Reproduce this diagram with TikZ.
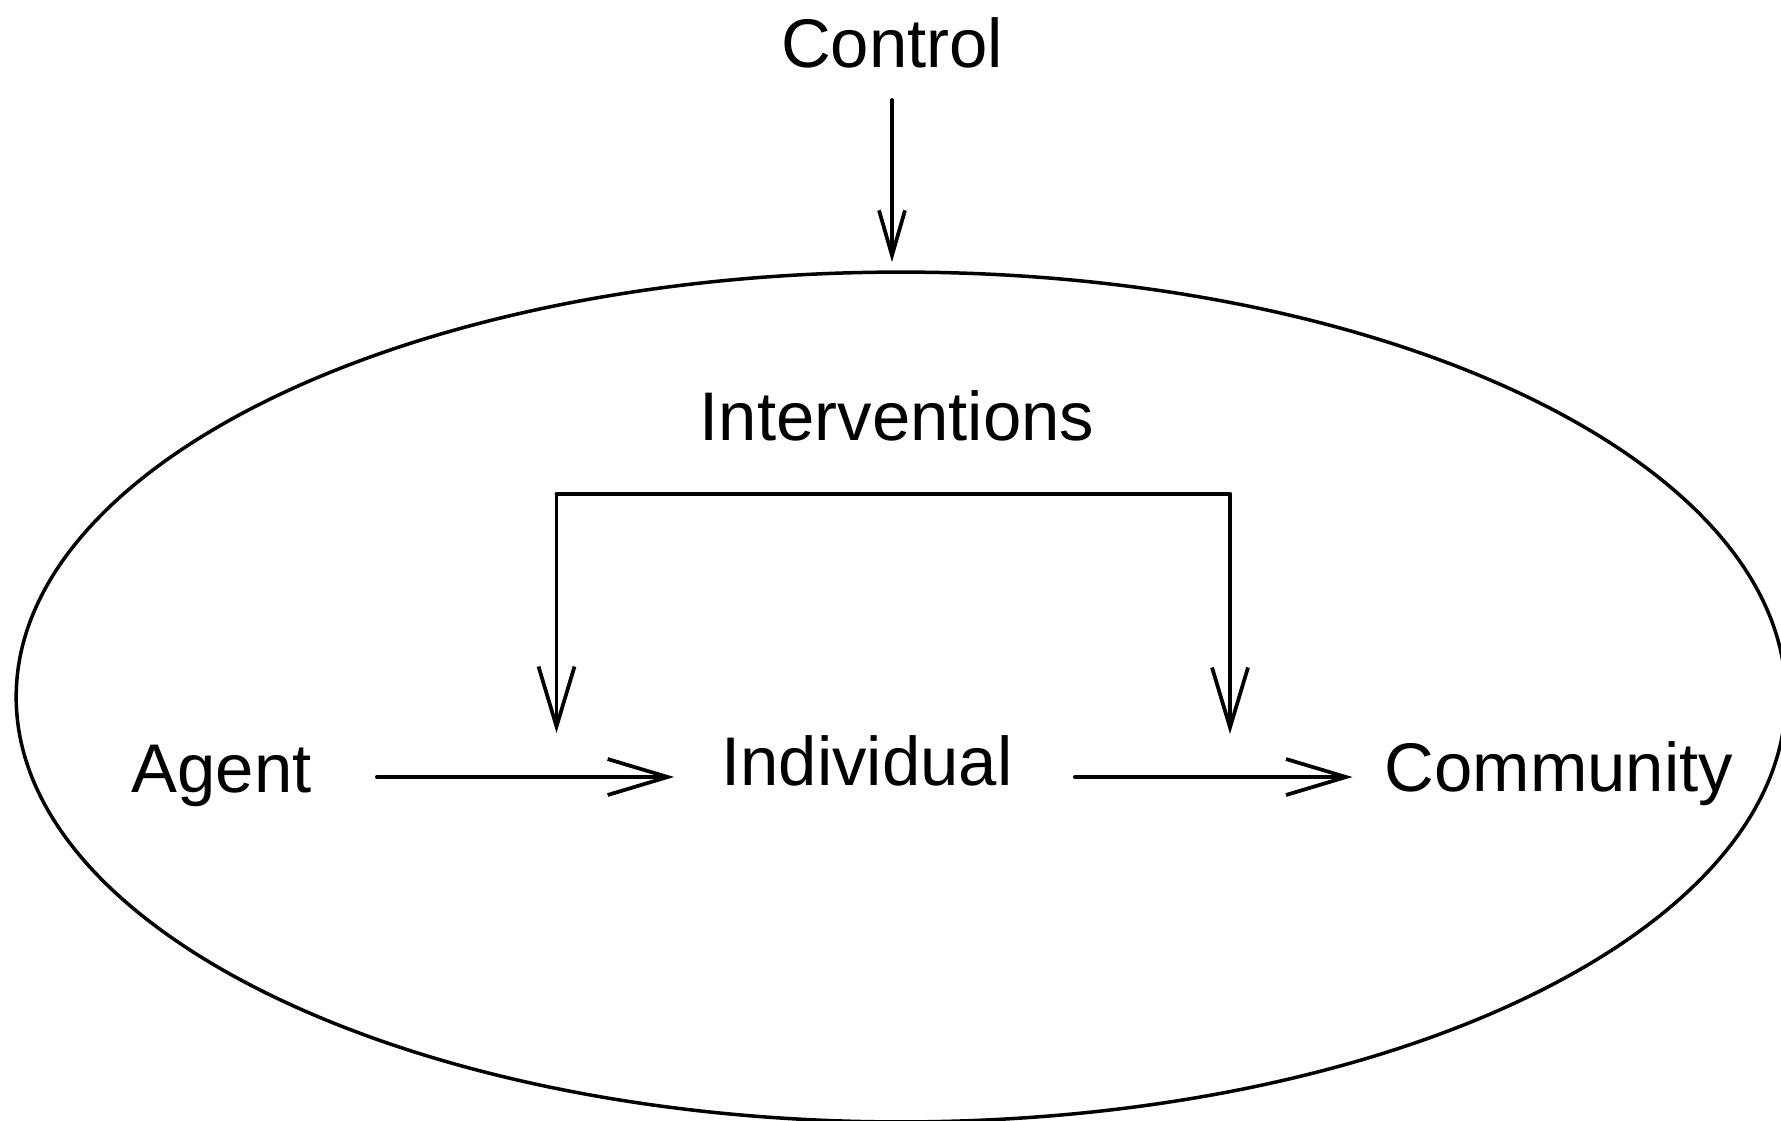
\documentclass[tikz,border=0pt]{standalone}
\usepackage{fontspec}
\setmainfont{Liberation Sans}
\usetikzlibrary{arrows.meta,shapes.geometric}
\tikzset{
  lbl/.style={inner sep=0pt, anchor=base, font=\fontsize{39.2}{47}\selectfont},
  ln/.style={line width=0.075cm, line cap=round, line join=miter},
  bigarr/.style={ln, -{Straight Barb[length=1.2cm, width=0.72cm, line width=0.075cm]}},
  smallarr/.style={ln, -{Straight Barb[length=0.9cm, width=0.52cm, line width=0.075cm]}},
}
\begin{document}
\begin{tikzpicture}[x=0.02cm,y=-0.02cm]
\useasboundingbox (0,0) rectangle (1781,1120);
\fill[white] (0,0) rectangle (1781,1120);
\clip (0,0) rectangle (1781,1120);

\node[ellipse, draw, line width=0.07cm, inner sep=0pt, outer sep=0pt,
      minimum width=35.4cm, minimum height=17cm] (env) at (901,697) {};

\node[lbl] (ctrl) at (892,67) {Control};
\node[lbl] (interv) at (897,440) {Interventions};
\node[lbl] (agent) at (221.5,792) {Agent};
\node[lbl] (indiv) at (867,785) {Individual};
\node[lbl] (comm) at (1559,791) {Community};

\draw[smallarr] ([shift={(0,33)}]ctrl.base) -- ([yshift=0.2cm]ctrl.base |- env.north);

\draw[bigarr] ([shift={(65,-15)}]agent.base east) -- ([shift={(-47,-8)}]indiv.base west);
\draw[bigarr] ([shift={(62,-8)}]indiv.base east) -- ([shift={(-32,-14)}]comm.base west);

\coordinate (brL) at (556.5,494);
\coordinate (brR) at (1230,494);
\draw[ln] (brL) -- (brR);
\draw[bigarr] (brL) -- ++(0,239);
\draw[bigarr] (brR) -- ++(0,240);
\end{tikzpicture}
\end{document}
